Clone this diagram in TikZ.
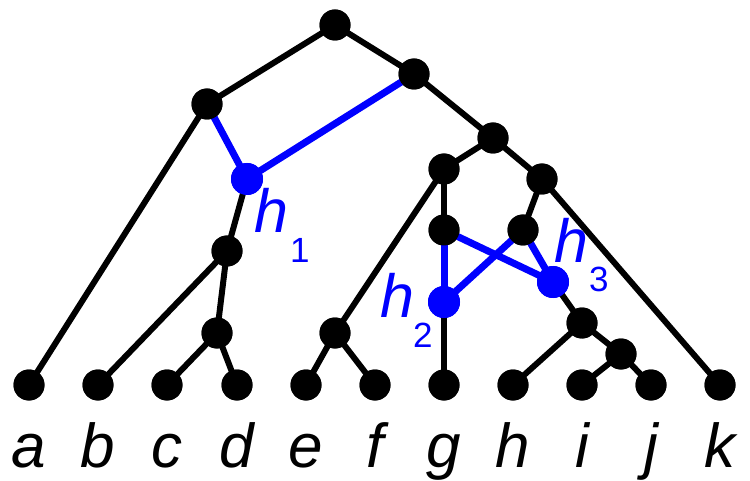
\documentclass[tikz,border=0pt]{standalone}
\usepackage{fontspec}
\setmainfont{Liberation Sans}
\begin{document}
\begin{tikzpicture}[x=1pt,y=-1pt,
  dot/.style={circle,fill=black,inner sep=0pt,minimum size=31pt},
  hdot/.style={circle,fill=hblue,inner sep=0pt,minimum size=32pt},
  tedge/.style={line width=6pt,black},
  hedge/.style={line width=7pt,hblue},
  leaflab/.style={anchor=base,font=\fontsize{62}{62}\selectfont\itshape,inner sep=0pt},
  hlab/.style={anchor=base west,font=\fontsize{61}{61}\selectfont\itshape,text=hblue,inner sep=0pt},
  hsub/.style={anchor=base west,font=\fontsize{35}{35}\selectfont,text=hblue,inner sep=0pt}]
\definecolor{hblue}{RGB}{0,0,255}
\useasboundingbox (0,0) rectangle (750,481);
% internal nodes
\node[dot] (root) at (335,25) {};
\node[dot] (A) at (207,104) {};
\node[dot] (B) at (414,74) {};
\node[hdot] (h1) at (247,179) {};
\node[dot] (n1) at (227,251) {};
\node[dot] (ncd) at (217,333) {};
\node[dot] (C) at (493,138) {};
\node[dot] (D) at (444,169) {};
\node[dot] (E) at (542,179) {};
\node[dot] (F) at (444,230) {};
\node[dot] (G) at (523,230) {};
\node[hdot] (h2) at (444,302) {};
\node[hdot] (h3) at (553,282) {};
\node[dot] (nef) at (335,333) {};
\node[dot] (nhij) at (582,323) {};
\node[dot] (nij) at (621,354) {};
% leaves
\node[dot] (a) at (29,385) {};
\node[dot] (b) at (98,385) {};
\node[dot] (c) at (167,385) {};
\node[dot] (d) at (237,385) {};
\node[dot] (e) at (306,385) {};
\node[dot] (f) at (375,385) {};
\node[dot] (g) at (444,385) {};
\node[dot] (h) at (513,385) {};
\node[dot] (i) at (582,385) {};
\node[dot] (j) at (651,385) {};
\node[dot] (k) at (720,385) {};
% black edges
\draw[tedge] (root.center) -- (A.center);
\draw[tedge] (root.center) -- (B.center);
\draw[tedge] (A.center) -- (a.center);
\draw[tedge] (B.center) -- (C.center);
\draw[tedge] (h1.center) -- (n1.center);
\draw[tedge] (n1.center) -- (b.center);
\draw[tedge] (n1.center) -- (ncd.center);
\draw[tedge] (ncd.center) -- (c.center);
\draw[tedge] (ncd.center) -- (d.center);
\draw[tedge] (C.center) -- (D.center);
\draw[tedge] (C.center) -- (E.center);
\draw[tedge] (D.center) -- (nef.center);
\draw[tedge] (D.center) -- (F.center);
\draw[tedge] (nef.center) -- (e.center);
\draw[tedge] (nef.center) -- (f.center);
\draw[tedge] (E.center) -- (G.center);
\draw[tedge] (E.center) -- (k.center);
\draw[tedge] (h2.center) -- (g.center);
\draw[tedge] (h3.center) -- (nhij.center);
\draw[tedge] (nhij.center) -- (h.center);
\draw[tedge] (nhij.center) -- (nij.center);
\draw[tedge] (nij.center) -- (i.center);
\draw[tedge] (nij.center) -- (j.center);
% blue edges
\draw[hedge] (A.center) -- (h1.center);
\draw[hedge] (B.center) -- (h1.center);
\draw[hedge] (F.center) -- (h2.center);
\draw[hedge] (G.center) -- (h2.center);
\draw[hedge] (F.center) -- (h3.center);
\draw[hedge] (G.center) -- (h3.center);
% redraw dots on top
\foreach \n in {root,A,B,n1,ncd,C,D,E,F,G,nef,nhij,nij,a,b,c,d,e,f,g,h,i,j,k}
  \fill[black] (\n) circle (15.5pt);
\foreach \n in {h1,h2,h3}
  \fill[hblue] (\n) circle (16pt);
% leaf labels
\node[leaflab] (la) at (29,467) {a};
\node[leaflab] (lb) at (98,467) {b};
\node[leaflab] (lc) at (167,467) {c};
\node[leaflab] (ld) at (237,467) {d};
\node[leaflab] (le) at (306,467) {e};
\node[leaflab] (lf) at (375,467) {f};
\node[leaflab] (lg) at (444,467) {g};
\node[leaflab] (lh) at (513,467) {h};
\node[leaflab] (li) at (582,467) {i};
\node[leaflab] (lj) at (651,467) {j};
\node[leaflab] (lk) at (720,467) {k};
% h labels
\node[hlab] (t1) at (254,233) {h};
\node[hsub] (s1) at (290,262) {1};
\node[hlab] (t2) at (380,317) {h};
\node[hsub] (s2) at (413,347) {2};
\node[hlab] (t3) at (554,263) {h};
\node[hsub] (s3) at (589,291) {3};
\end{tikzpicture}
\end{document}
